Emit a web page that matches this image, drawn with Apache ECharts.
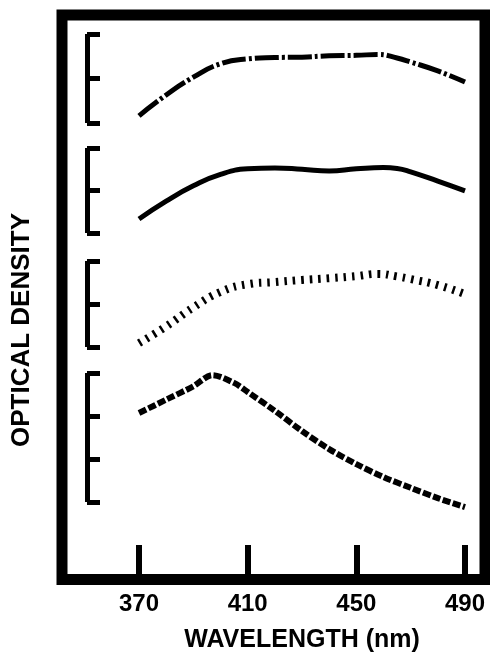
<!DOCTYPE html>
<html>
<head>
<meta charset="utf-8">
<script src="https://cdn.jsdelivr.net/npm/echarts@6/dist/echarts.min.js"></script>
<style>html,body{margin:0;padding:0;background:#fff}#c{width:490px;height:659px}</style>
</head>
<body>
<div id="c"></div>
<script>
// ---- data (wavelength in nm, optical density relative to each scale bar; 0.1 per bar interval) ----
const xTickLabels = [370, 410, 450, 490];

const curve1X = [370, 380, 390, 400, 410, 420, 430, 440, 450, 458, 465, 470, 480, 490];
const curve1Y = [0.016, 0.063, 0.103, 0.133, 0.144, 0.147, 0.148, 0.151, 0.152, 0.154, 0.146, 0.137, 0.117, 0.092];

const curve2X = [370, 380, 390, 400, 410, 420, 430, 440, 450, 460, 465, 470, 480, 490];
const curve2Y = [0.033, 0.075, 0.111, 0.138, 0.151, 0.153, 0.150, 0.146, 0.151, 0.154, 0.152, 0.144, 0.122, 0.099];

const curve3X = [370, 380, 390, 400, 410, 420, 430, 440, 450, 458, 465, 470, 480, 490];
const curve3Y = [0.009, 0.048, 0.092, 0.128, 0.146, 0.151, 0.156, 0.160, 0.165, 0.170, 0.164, 0.158, 0.144, 0.123];

const curve4X = [370, 380, 390, 397, 405, 410, 420, 430, 440, 450, 460, 470, 480, 490];
const curve4Y = [0.207, 0.238, 0.269, 0.295, 0.277, 0.256, 0.212, 0.165, 0.123, 0.088, 0.058, 0.033, 0.009, -0.012];

const scaleTicks3 = [0, 0.1, 0.2];
const scaleTicks4 = [0, 0.1, 0.2, 0.3];

const xTitle = 'WAVELENGTH (nm)';
const yTitle = 'OPTICAL DENSITY';

// ---- build ----
const pairs = (xs, ys) => xs.map((x, i) => [x, ys[i]]);
const FONT = 'Liberation Sans';

const gridPos = [
  {top: 34, height: 89},
  {top: 148, height: 85},
  {top: 261, height: 86},
  {top: 373, height: 129},
  {top: 544, height: 30}
];
const grids = gridPos.map(g => ({left: 139, right: 25, top: g.top, height: g.height, containLabel: false}));

const hiddenX = i => ({type: 'value', gridIndex: i, min: 370, max: 490, show: false});
const bracketY = (i, ticks) => ({
  type: 'value', gridIndex: i, min: ticks[0], max: ticks[ticks.length - 1],
  position: 'left', offset: 52,
  axisLine: {show: true, lineStyle: {color: '#000', width: 5, cap: 'butt'}},
  axisTick: {show: true, inside: true, length: 13, customValues: ticks, lineStyle: {color: '#000', width: 5}},
  axisLabel: {show: false},
  splitLine: {show: false}
});

const xAxes = [hiddenX(0), hiddenX(1), hiddenX(2), hiddenX(3), {
  type: 'value', gridIndex: 4, min: 370, max: 490,
  axisLine: {show: false},
  axisTick: {show: true, inside: true, length: 29, customValues: xTickLabels, lineStyle: {color: '#000', width: 6}},
  axisLabel: {show: true, customValues: xTickLabels, margin: 18, color: '#000', fontSize: 24, fontWeight: 'bold', fontFamily: FONT},
  splitLine: {show: false},
  name: xTitle, nameLocation: 'middle', nameGap: 54,
  nameTextStyle: {color: '#000', fontSize: 25, fontWeight: 'bold', fontFamily: FONT}
}];
const yAxes = [bracketY(0, scaleTicks3), bracketY(1, scaleTicks3), bracketY(2, scaleTicks3), bracketY(3, scaleTicks4),
  {type: 'value', gridIndex: 4, show: false}];

const mk = (i, xs, ys, ls, sm) => ({
  type: 'line', xAxisIndex: i, yAxisIndex: i, data: pairs(xs, ys),
  showSymbol: false, smooth: sm, clip: false,
  lineStyle: Object.assign({color: '#000', cap: 'butt', join: 'round'}, ls)
});

const chart = echarts.init(document.getElementById('c'));
chart.setOption({
  backgroundColor: '#fff',
  animation: false,
  grid: grids,
  xAxis: xAxes,
  yAxis: yAxes,
  series: [
    mk(0, curve1X, curve1Y, {width: 5, type: [24, 3, 3, 3]}, 0.5),
    mk(1, curve2X, curve2Y, {width: 5, type: 'solid'}, 0.5),
    mk(2, curve3X, curve3Y, {width: 8, type: [2.5, 6]}, 0.5),
    mk(3, curve4X, curve4Y, {width: 6, type: [8, 2.5]}, 0.3)
  ],
  graphic: [
    {type: 'rect', shape: {x: 62, y: 15, width: 423, height: 564.5},
     style: {fill: 'none', stroke: '#000', lineWidth: 11}, silent: true},
    {type: 'text', x: 22, y: 330, rotation: Math.PI / 2,
     style: {text: yTitle, fill: '#000', font: 'bold 26px "Liberation Sans"', textAlign: 'center', textVerticalAlign: 'middle'}}
  ]
});
</script>
</body>
</html>
